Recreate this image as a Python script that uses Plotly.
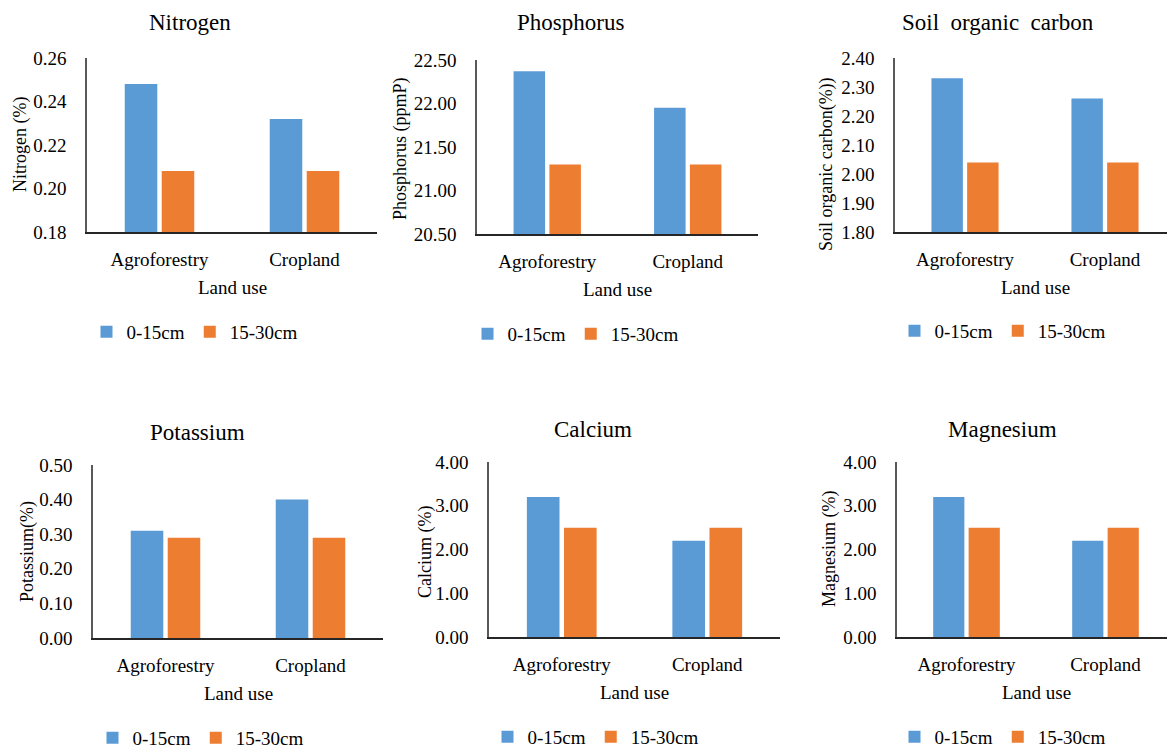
import plotly.graph_objects as go

categories = ["Agroforestry", "Cropland"]
series_names = ["0-15cm", "15-30cm"]

nitrogen_0_15 = [0.248, 0.232]
nitrogen_15_30 = [0.208, 0.208]
phosphorus_0_15 = [22.37, 21.95]
phosphorus_15_30 = [21.30, 21.30]
soc_0_15 = [2.33, 2.26]
soc_15_30 = [2.04, 2.04]
potassium_0_15 = [0.31, 0.40]
potassium_15_30 = [0.29, 0.29]
calcium_0_15 = [3.2, 2.2]
calcium_15_30 = [2.5, 2.5]
magnesium_0_15 = [3.2, 2.2]
magnesium_15_30 = [2.5, 2.5]

titles = ["Nitrogen", "Phosphorus", "Soil  organic  carbon", "Potassium", "Calcium", "Magnesium"]
y_titles = ["Nitrogen (%)", "Phosphorus (ppmP)", "Soil organic carbon(%))",
            "Potassium(%)", "Calcium (%)", "Magnesium (%)"]
y_ranges = [[0.18, 0.26], [20.5, 22.5], [1.8, 2.4], [0, 0.5], [0, 4], [0, 4]]
y_dticks = [0.02, 0.5, 0.1, 0.1, 1.0, 1.0]
x_title = "Land use"

data = [
    (nitrogen_0_15, nitrogen_15_30),
    (phosphorus_0_15, phosphorus_15_30),
    (soc_0_15, soc_15_30),
    (potassium_0_15, potassium_15_30),
    (calcium_0_15, calcium_15_30),
    (magnesium_0_15, magnesium_15_30),
]

# page body has an 8px margin: the figure is sized to fill the rest of the window
OFF = 8
W, H = 1175 - OFF, 748 - OFF


def fx(px):
    return (px - OFF) / W


def fy(py):
    return 1 - (py - OFF) / H


# screen-pixel boxes of each plot area: (left, right, top, bottom)
boxes = [
    (87, 377, 58, 232),
    (477, 758, 60, 234),
    (895, 1175, 58, 232),
    (93, 383, 465, 638),
    (489, 780, 462, 637),
    (897, 1175, 462, 637),
]
title_pos = [(190, 22), (570, 22), (998, 22), (197, 432), (593, 430), (1002, 430)]
ytitle_pos = [(20, 145), (401, 149), (826, 164), (27, 552), (425, 552), (829, 549)]
legend_pos = [(195, 332), (576, 334), (1003, 331), (201, 738), (596, 737), (1003, 737)]

colors = ["#5B9BD5", "#ED7D31"]
FONT = "Times New Roman, Liberation Serif, DejaVu Serif, serif"

fig = go.Figure()
annotations = []
layout = dict(
    width=W, height=H,
    margin=dict(l=0, r=0, t=0, b=0, autoexpand=False),
    paper_bgcolor="white", plot_bgcolor="white",
    barmode="group", bargap=0.49, bargroupgap=0.12,
    font=dict(family=FONT, size=18, color="black"),
)

for i, (vals, box) in enumerate(zip(data, boxes)):
    n = i + 1
    xa = "x" if n == 1 else f"x{n}"
    ya = "y" if n == 1 else f"y{n}"
    lg = "legend" if n == 1 else f"legend{n}"
    for s in range(2):
        fig.add_trace(go.Bar(
            x=categories, y=vals[s], name=series_names[s],
            marker=dict(color=colors[s], line=dict(width=0)),
            xaxis=xa, yaxis=ya, legend=lg, showlegend=True,
        ))
    l, r, t, b = box
    layout["xaxis" if n == 1 else f"xaxis{n}"] = dict(
        domain=[fx(l), min(fx(r), 1.0)], anchor=ya,
        showline=True, linecolor="#262626", linewidth=1.5,
        showgrid=False, zeroline=False,
        ticks="outside", ticklen=9, tickcolor="rgba(0,0,0,0)",
        tickfont=dict(size=19, family=FONT),
        fixedrange=True,
    )
    layout["yaxis" if n == 1 else f"yaxis{n}"] = dict(
        domain=[fy(b), fy(t)], anchor=xa,
        range=y_ranges[i], dtick=y_dticks[i], tick0=y_ranges[i][0],
        tickformat=".2f",
        showline=True, linecolor="#595959", linewidth=1.5,
        showgrid=False, zeroline=False,
        ticks="outside", ticklen=15, tickcolor="rgba(0,0,0,0)",
        tickfont=dict(size=19, family=FONT),
        fixedrange=True,
    )
    tx, ty = title_pos[i]
    annotations.append(dict(text=titles[i], x=fx(tx), y=fy(ty), xref="paper", yref="paper",
                            xanchor="center", yanchor="middle", showarrow=False,
                            font=dict(size=23, family=FONT)))
    annotations.append(dict(text=x_title, x=fx((l + r) / 2), y=fy(b + 55),
                            xref="paper", yref="paper", xanchor="center", yanchor="middle",
                            showarrow=False, font=dict(size=19, family=FONT)))
    yx, yy = ytitle_pos[i]
    annotations.append(dict(text=y_titles[i], x=fx(yx), y=fy(yy), xref="paper", yref="paper",
                            xanchor="center", yanchor="middle", textangle=-90, showarrow=False,
                            font=dict(size=18, family=FONT)))
    lx, ly = legend_pos[i]
    layout[lg] = dict(
        orientation="h", x=fx(lx), y=fy(ly), xanchor="center", yanchor="middle",
        font=dict(size=19, family=FONT), itemwidth=30, bgcolor="rgba(0,0,0,0)",
        traceorder="normal",
    )

layout["annotations"] = annotations
fig.update_layout(**layout)
fig.write_html("out.html")
